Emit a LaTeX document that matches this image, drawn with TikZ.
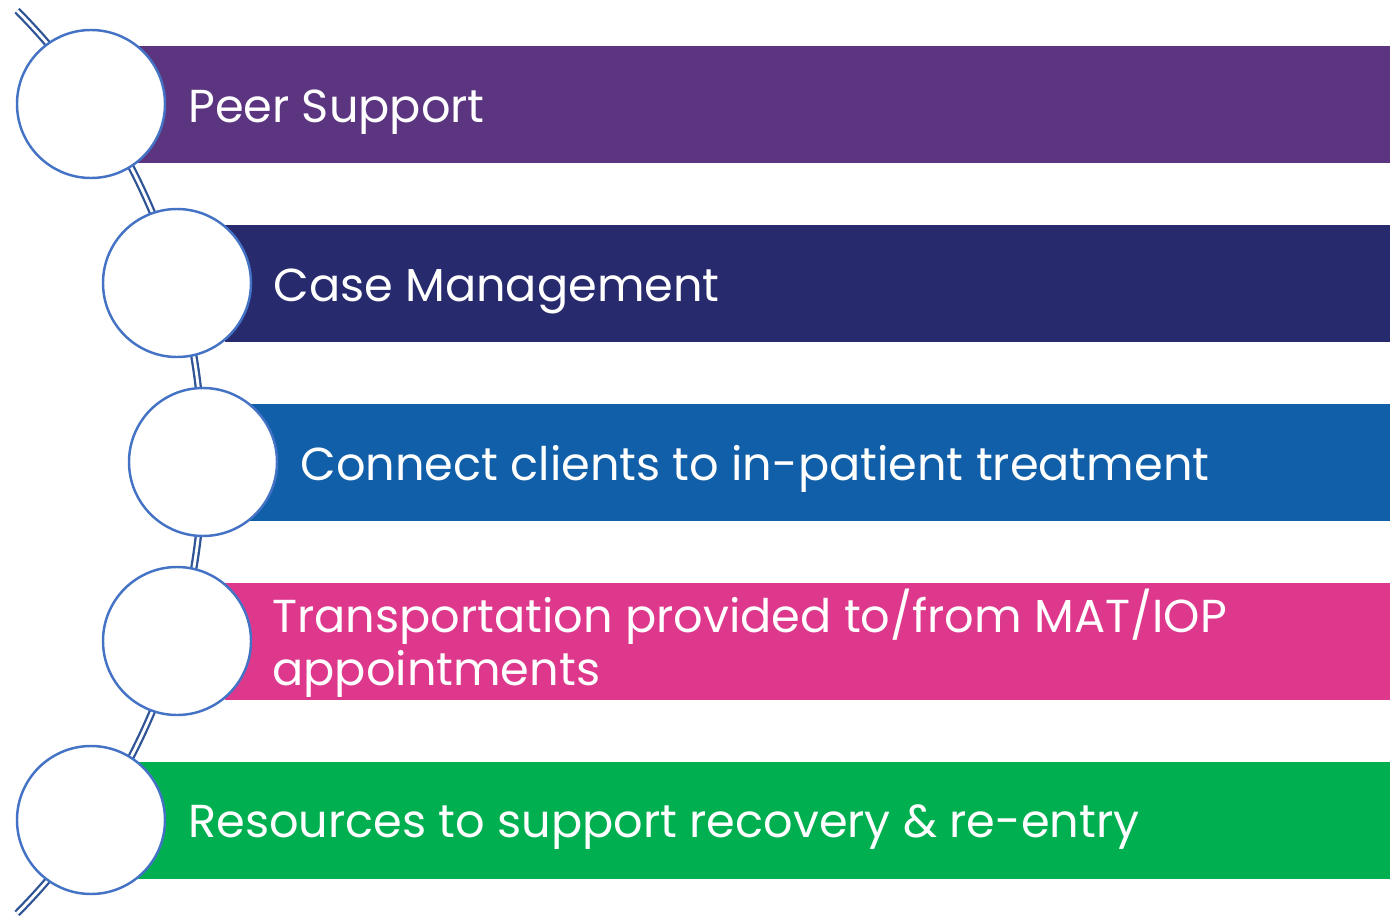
\documentclass[tikz,border=0pt]{standalone}
\usepackage{fontspec}
\setmainfont{Poppins}
\definecolor{cPurple}{HTML}{5C3581}
\definecolor{cNavy}{HTML}{282A6E}
\definecolor{cBlue}{HTML}{115FA8}
\definecolor{cPink}{HTML}{DE388C}
\definecolor{cGreen}{HTML}{00AF50}
\definecolor{cRing}{HTML}{4472C4}
\definecolor{cRail}{HTML}{2F5597}
\tikzset{
  bar/.style={draw=none, inner sep=0pt, outer sep=0pt, anchor=north west},
  ring/.style={circle, draw=cRing, line width=1.4pt, fill=white, minimum size=148*0.02cm, inner sep=0pt},
  label/.style={text=white, inner sep=0pt, anchor=base west, align=left,
    font=\fontsize{26.3}{30}\selectfont},
  rail/.style={draw=cRail, line width=1.3pt, double=white, double distance=1.6pt}
}
\begin{document}
\begin{tikzpicture}[x=0.02cm, y=-0.02cm]
\useasboundingbox (0,0) rectangle (1397,916);
% bars
\node[bar, fill=cPurple, minimum width=(1390-138)*0.02cm, minimum height=117*0.02cm] (b1) at (138,46) {};
\node[bar, fill=cNavy,   minimum width=(1390-225)*0.02cm, minimum height=117*0.02cm] (b2) at (225,225) {};
\node[bar, fill=cBlue,   minimum width=(1390-250)*0.02cm, minimum height=117*0.02cm] (b3) at (250,404) {};
\node[bar, fill=cPink,   minimum width=(1390-225)*0.02cm, minimum height=117*0.02cm] (b4) at (225,583) {};
\node[bar, fill=cGreen,  minimum width=(1390-138)*0.02cm, minimum height=117*0.02cm] (b5) at (138,762) {};
% rail
\coordinate (railtop) at ([shift={(-439.2,462)}]44.7:12.84cm);
\draw[rail] (railtop) arc[start angle=44.7, end angle=-44.7, radius=12.84cm] coordinate (railbot);
% rings
\node[ring] (c1) at (91,104) {};
\node[ring] (c2) at (177,283) {};
\node[ring] (c3) at (203,462) {};
\node[ring] (c4) at (177,641) {};
\node[ring] (c5) at (91,820) {};
% labels
\node[label] (t1) at (188,122) {Peer Support};
\node[label] (t2) at (273,301) {Case Management};
\node[label] (t3) at (300,480) {Connect clients to in-patient treatment};
\node[label] (t4) at (272,685) {Transportation provided to/from MAT/IOP\\appointments};
\node[label] (t5) at (188,837) {Resources to support recovery \& re-entry};
\end{tikzpicture}
\end{document}
